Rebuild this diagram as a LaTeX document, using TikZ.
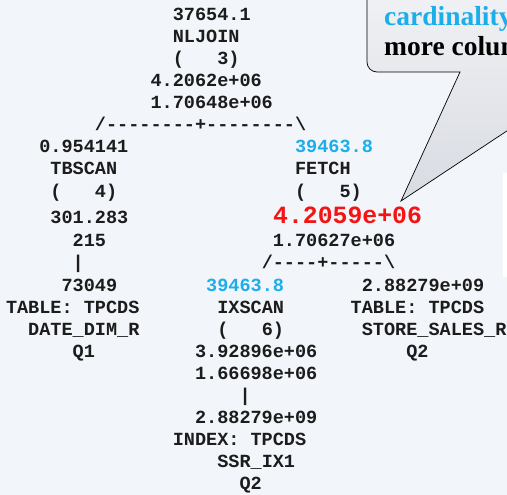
\documentclass[tikz,border=0pt]{standalone}
\usepackage{fontspec}
\setmonofont{Liberation Mono}
\newfontfamily\notefont{Liberation Serif}

\definecolor{planbg}{HTML}{F2F5F9}
\definecolor{planink}{HTML}{1C1C1C}
\definecolor{estblue}{HTML}{1CADEB}
\definecolor{estred}{HTML}{F41414}
\definecolor{notetop}{HTML}{F4F5F7}
\definecolor{notemid}{HTML}{D2D6DE}
\definecolor{notebot}{HTML}{D8DBE2}

\tikzset{
  plan/.style={anchor=base west, inner sep=0pt, text=planink,
    font=\ttfamily\bfseries\fontsize{18.53}{22}\selectfont},
  est/.style={plan, text=estblue},
  hot/.style={plan, text=estred,
    font=\ttfamily\bfseries\fontsize{24.8}{26}\selectfont},
  note/.style={anchor=base west, inner sep=0pt,
    font=\notefont\bfseries\fontsize{27.5}{30}\selectfont},
}

% one line of the plan: [style] name, column, baseline, text
\newcommand{\planline}[5][plan]{\node[#1] (#2) at ({5.8+11.12*#3},#4) {#5};}

\frenchspacing
\begin{document}
\begin{tikzpicture}[x=1pt, y=-1pt]
  \useasboundingbox (0,0) rectangle (507,495);
  \clip (0,0) rectangle (507,495);
  \fill[planbg] (0,0) rectangle (507,495);
  \fill[white] (503,173) rectangle (507,277);

  % NLJOIN
  \planline{nljoin-rows}{15}{21}{37654.1}
  \planline{nljoin}{15}{43}{NLJOIN}
  \planline{nljoin-id}{15}{65}{(~~~3)}
  \planline{nljoin-cost}{13}{87}{4.2062e+06}
  \planline{nljoin-io}{13}{109}{1.70648e+06}
  \planline{split-top}{8}{131}{/--------+--------\textbackslash}

  % outer: TBSCAN over DATE_DIM_R
  \planline{tbscan-rows}{3}{153}{0.954141}
  \planline{tbscan}{4}{175}{TBSCAN}
  \planline{tbscan-id}{4}{197}{(~~~4)}
  \planline{tbscan-cost}{4}{223}{301.283}
  \planline{tbscan-io}{6}{247}{215}
  \planline{pipe-left}{6}{269}{|}
  \planline{datedim-rows}{5}{291.5}{73049}
  \planline{datedim-schema}{0}{313.5}{TABLE:~TPCDS}
  \planline{datedim}{2}{335.5}{DATE\_DIM\_R}
  \planline{datedim-q}{6}{357.5}{Q1}

  % inner: FETCH
  \planline[est]{fetch-rows}{26}{153}{39463.8}
  \planline{fetch}{26}{175}{FETCH}
  \planline{fetch-id}{26}{197}{(~~~5)}
  \node[hot] (fetch-cost) at (273,223) {4.2059e+06};
  \planline{fetch-io}{24}{247}{1.70627e+06}
  \planline{split-fetch}{23}{269}{/----+-----\textbackslash}

  % IXSCAN on SSR_IX1
  \planline[est]{ixscan-rows}{18}{291.5}{39463.8}
  \planline{ixscan}{19}{313.5}{IXSCAN}
  \planline{ixscan-id}{19}{335.5}{(~~~6)}
  \planline{ixscan-cost}{17}{357.5}{3.92896e+06}
  \planline{ixscan-io}{17}{379.5}{1.66698e+06}
  \planline{pipe-ix}{21}{401.5}{|}
  \planline{ssrix-rows}{17}{423.5}{2.88279e+09}
  \planline{ssrix-schema}{15}{445.5}{INDEX:~TPCDS}
  \planline{ssrix}{19}{467.5}{SSR\_IX1}
  \planline{ssrix-q}{21}{489.5}{Q2}

  % STORE_SALES_R
  \planline{storesales-rows}{32}{291.5}{2.88279e+09}
  \planline{storesales-schema}{31}{313.5}{TABLE:~TPCDS}
  \planline{storesales}{32}{335.5}{STORE\_SALES\_R}
  \planline{storesales-q}{36}{357.5}{Q2}

  % callout pointing at the FETCH estimate
  \coordinate (tip) at (401,201);
  \shade[draw=black, line width=0.7pt, top color=notetop,
    middle color=notemid, bottom color=notebot]
    (367,-40) -- (367,62) to[out=-90, in=180] (377,72) -- (460,72)
    -- (tip) -- (596,72) -- (640,72) -- (640,-40) -- cycle;
  \node[note, text=estblue] (note-1) at (384,26) {cardinality};
  \node[note] (note-2) at (384,55.5) {more columns};
\end{tikzpicture}
\end{document}
